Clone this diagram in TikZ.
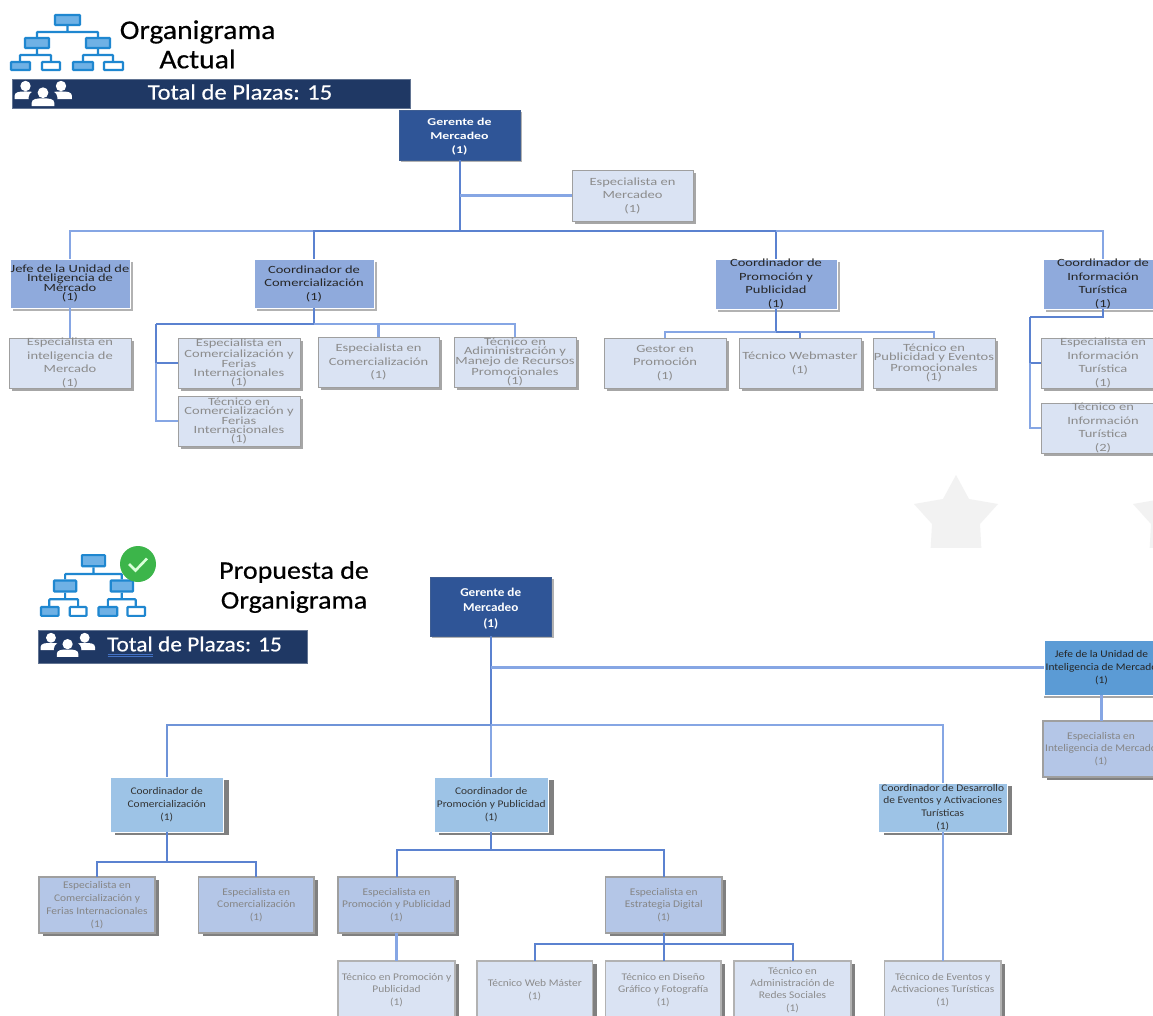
\documentclass[tikz,border=0pt]{standalone}
\usepackage{fontspec}
\usetikzlibrary{shadows}
\setmainfont{Carlito}
\newfontfamily\widef[FakeStretch=1.32]{Carlito}
\newfontfamily\lowf[FakeStretch=1.12]{Carlito}
\newfontfamily\gerf[FakeStretch=1.1]{Carlito}
\newfontfamily\titlef[FakeStretch=1.1,FakeBold=.5]{Carlito}
\newfontfamily\barAf[FakeStretch=1.12,FakeBold=.4]{Carlito}
\newfontfamily\barBf[FakeStretch=1.09,FakeBold=.4]{Carlito}
\newcommand\topf[1]{\widef\fontsize{11}{#1}\selectfont}
\newcommand\topb[1]{\widef\bfseries\fontsize{10.5}{#1}\selectfont}
\newcommand\lowt[1]{\lowf\fontsize{10.2}{#1}\selectfont}
\newcommand\lowb[1]{\gerf\bfseries\fontsize{12}{#1}\selectfont}
\definecolor{navy}{HTML}{1F3864}
\definecolor{icoB}{HTML}{1F87D0}
\definecolor{icoF}{HTML}{6FB1E5}
\definecolor{lineD}{HTML}{5B82D0}
\definecolor{lineL}{HTML}{86A6E4}
\definecolor{lineM}{HTML}{6F94D8}
\definecolor{gerC}{HTML}{2F5597}
\definecolor{paleC}{HTML}{DAE3F3}
\definecolor{coordC}{HTML}{8FAADC}
\definecolor{skyC}{HTML}{9DC3E6}
\definecolor{jefeC}{HTML}{5B9BD5}
\definecolor{midC}{HTML}{B4C6E7}
\definecolor{checkC}{HTML}{3CB54A}
\definecolor{ulC}{HTML}{4472C4}
\tikzset{
 base/.style={rectangle,inner sep=0pt,outer sep=0pt,align=center},
 gerbox/.style={base,fill=gerC,draw=gerC!80!gray,line width=.8pt,text=white,copy shadow={shadow xshift=2pt,shadow yshift=-2pt,fill=gray!60,draw=none}},
 coordbox/.style={base,fill=coordC,draw=white,line width=.8pt,text=black!85,copy shadow={shadow xshift=3pt,shadow yshift=-2.5pt,fill=gray!60,draw=none}},
 specbox/.style={base,fill=paleC,draw=gray!75,line width=1pt,text=gray!90,copy shadow={shadow xshift=3pt,shadow yshift=-2.5pt,fill=gray!70,draw=none}},
 lowcoord/.style={base,fill=skyC,draw=white,line width=.8pt,text=black!80,copy shadow={shadow xshift=5pt,shadow yshift=-2.5pt,fill=gray,draw=none}},
 lowjefe/.style={base,fill=jefeC,draw=white,line width=.8pt,text=black!85,copy shadow={shadow xshift=0pt,shadow yshift=-2.5pt,fill=gray!70,draw=none}},
 lowspec/.style={base,fill=midC,draw=gray!75,line width=1.2pt,text=gray!95,copy shadow={shadow xshift=4pt,shadow yshift=-2.5pt,fill=gray,draw=none}},
 lowtec/.style={base,fill=paleC,draw=gray!60,line width=1.2pt,text=gray!90,copy shadow={shadow xshift=4pt,shadow yshift=-2.5pt,fill=gray,draw=none}},
 connD/.style={draw=lineD,line width=2pt},
 connL/.style={draw=lineL,line width=2.1pt},
 icobox/.style={draw=icoB,line width=2.2pt,rounded corners=.8pt,fill=icoF},
 icowht/.style={draw=icoB,line width=2.2pt,rounded corners=.8pt,fill=white},
 icoline/.style={draw=icoB,line width=2.2pt,rounded corners=.8pt},
 title/.style={inner sep=0pt,text=black,font=\titlef\fontsize{27}{30}\selectfont},
 titleB/.style={inner sep=0pt,text=black,font=\titlef\fontsize{25.4}{30}\selectfont},
 bartextA/.style={inner sep=0pt,text=white,font=\barAf\fontsize{22}{24}\selectfont},
 bartextB/.style={inner sep=0pt,text=white,font=\barBf\fontsize{21.4}{24}\selectfont},
 barbox/.style={fill=navy,draw=navy!70!white,line width=.5pt},
}
% name, style, x0, y0, x1, y1, font, text
\newcommand\orgbox[8]{%
 \pgfmathsetmacro\cxx{(#3+#5)/2}\pgfmathsetmacro\cyy{(#4+#6)/2}%
 \pgfmathsetmacro\wdd{#5-#3}\pgfmathsetmacro\htt{#6-#4}%
 \node[#2,font=#7,minimum width=\wdd pt,minimum height=\htt pt] (#1) at (\cxx,\cyy) {#8};}
\newcommand\orgicon{%
 \draw[icoline] (67.5,26) -- (67.5,32) (37,37) -- (37,32) -- (98,32) -- (98,37);
 \draw[icoline] (37,49) -- (37,55) (20,61) -- (20,55) -- (51,55) -- (51,61);
 \draw[icoline] (98,49) -- (98,55) (83,61) -- (83,55) -- (113,55) -- (113,61);
 \draw[icobox] (55,15) rectangle (80,25);
 \draw[icobox] (25,38) rectangle (49,48);
 \draw[icobox] (86,38) rectangle (110,48);
 \draw[icobox] (11,62) rectangle (30,70);
 \draw[icowht] (42,62) rectangle (60,70);
 \draw[icobox] (73,62) rectangle (93,70);
 \draw[icowht] (104,62) rectangle (123,70);
}
\newcommand\personfig[3]{%
 \fill[white] (#1,#2) circle (#3);
 \fill[white] ({#1-2.1*#3},{#2+2.5*#3}) -- ({#1-2.1*#3},{#2+1.9*#3})
   .. controls ({#1-2.1*#3},{#2+1.1*#3}) and ({#1-1.1*#3},{#2+1.05*#3}) .. (#1,{#2+1.05*#3})
   .. controls ({#1+1.1*#3},{#2+1.05*#3}) and ({#1+2.1*#3},{#2+1.1*#3}) .. ({#1+2.1*#3},{#2+1.9*#3})
   -- ({#1+2.1*#3},{#2+2.5*#3}) -- cycle;}
\newcommand\peopleicon{%
 \personfig{25.5}{86}{5.2}\personfig{61}{86}{5.2}
 \fill[navy] (43,98) ellipse (14.5 and 9.5);
 \personfig{43}{92.7}{5.4}
}
\begin{document}
\begin{tikzpicture}[x=1pt,y=-1pt]
\clip (0,0) rectangle (1153,1015);
\fill[white] (0,0) rectangle (1153,1015);
% stars
\begin{scope}
 \clip (900,470) rectangle (1153,547);
 \foreach \sx in {956,1175}{
  \fill[black!5] (\sx,475)
   -- ({\sx+13},499) -- ({\sx+42},504) -- ({\sx+24},524) -- ({\sx+26},560)
   -- ({\sx-26},560) -- ({\sx-24},524) -- ({\sx-42},504) -- ({\sx-13},499) -- cycle;
 }
\end{scope}
% === top section
\orgicon
\node[title] (t1a) at (197.6,32) {Organigrama};
\node[title] (t1b) at (197.6,59) {Actual};
\path[barbox] (12,79.5) rectangle (410,108.5);
\peopleicon
\node[bartextA] (t1c) at (240,92) {Total de Plazas: 15};

\orgbox{gtop}{gerbox}{399}{110}{520}{160}{\topb{13.8}}{\rule{0pt}{11pt}Gerente de\\Mercadeo\\(1)}
\orgbox{emk}{specbox}{572}{170}{693}{221}{\topf{13.5}}{Especialista en\\Mercadeo\\(1)}
\orgbox{jtop}{coordbox}{10}{259}{130}{308}{\topf{9}}{Jefe de la Unidad de\\Inteligencia de\\Mércado\\(1)}
\orgbox{ctc}{coordbox}{254}{259}{374}{308}{\topf{13.5}}{Coordinador de\\Comercialización\\(1)}
\orgbox{ctp}{coordbox}{715}{259}{837}{309}{\topf{13.5}}{Coordinador de\\Promoción y\\Publicidad\\(1)}
\orgbox{cti}{coordbox}{1043}{259}{1163}{309}{\topf{13.5}}{Coordinador de\\Información\\Turística\\(1)}
\orgbox{eint}{specbox}{9}{338}{131}{388}{\topf{13.5}}{Especialista en\\inteligencia de\\Mercado\\(1)}
\orgbox{ecf}{specbox}{178}{338}{300}{388}{\topf{9}}{Especialista en\\Comercialización y\\Ferias\\Internacionales\\(1)}
\orgbox{tcf}{specbox}{178}{396}{300}{446}{\topf{9}}{Técnico en\\Comercialización y\\Ferias\\Internacionales\\(1)}
\orgbox{ecm}{specbox}{318}{337}{439}{387}{\topf{13.5}}{Especialista en\\Comercialización\\(1)}
\orgbox{tad}{specbox}{454}{337}{576}{387}{\topf{9}}{Técnico en\\Adiministración y\\Manejo de Recursos\\Promocionales\\(1)}
\orgbox{gpr}{specbox}{604}{338}{726}{388}{\topf{13.5}}{Gestor en\\Promoción\\(1)}
\orgbox{twb}{specbox}{739}{338}{861}{388}{\topf{14}}{Técnico Webmaster\\(1)}
\orgbox{tpe}{specbox}{873}{338}{995}{388}{\topf{9}}{Técnico en\\Publicidad y Eventos\\Promocionales\\(1)}
\orgbox{ein}{specbox}{1041}{338}{1165}{388}{\topf{13.5}}{Especialista en\\Información\\Turística\\(1)}
\orgbox{tin}{specbox}{1041}{403}{1165}{453}{\topf{13.5}}{Técnico en\\Información\\Turística\\(2)}

\coordinate (busT) at (459.5,231);
\coordinate (busC) at (0,324);
\coordinate (busP) at (0,332);
\coordinate (busI) at (1030,317);
\coordinate (lftC) at (156,324);
\coordinate (lftI) at (1030,317);
\draw[connD] (gtop.south) -- (gtop.south |- busT);
\draw[connL] (gtop.south |- emk.west) -- (emk.west);
\draw[connL] (busT) -| (jtop.north);
\draw[connD] (busT) -| (ctc.north);
\draw[connD] (busT) -| (ctp.north);
\draw[connL] (ctp.north |- busT) -| (cti.north);
\draw[connL] (jtop.south) -- (eint.north);
% Coordinador de Comercializacion
\draw[connD] (ctc.south) -- (ctc.south |- busC);
\draw[connD] (ctc.south |- busC) -- (lftC);
\draw[connL] (ctc.south |- busC) -| (ecm.north);
\draw[connL] (ecm.north |- busC) -| (tad.north);
\draw[connD] (lftC) |- (ecf.west);
\draw[connL] (lftC |- ecf.west) |- (tcf.west);
% Promocion
\draw[connD] (ctp.south) -- (ctp.south |- busP);
\draw[connL] (ctp.south |- busP) -| (gpr.north);
\draw[connD] (ctp.south |- busP) -| (twb.north);
\draw[connL] (twb.north |- busP) -| (tpe.north);
% Informacion
\draw[connD] (cti.south) |- (busI);
\draw[connD] (busI) |- (ein.west);
\draw[connL] (lftI |- ein.west) |- (tin.west);

% === lower section
\begin{scope}[shift={(40,554)},xscale=.93,yscale=1.105,shift={(-10,-14)}]
 \orgicon
\end{scope}
\fill[checkC] (138,564) circle (18);
\draw[white!85!green,line width=2.6pt] (129,564) -- (135.5,570.5) -- (147,558.5);
\node[titleB] (t2a) at (294,572) {Propuesta de};
\node[titleB] (t2b) at (294,602) {Organigrama};
\path[barbox] (38,630) rectangle (307,663);
\begin{scope}[shift={(41,633)},scale=.95,shift={(-15,-81)}]
 \peopleicon
\end{scope}
\node[bartextB,anchor=west] (t2c) at (107,644) {Total de Plazas: 15};
\draw[ulC,line width=.6pt] (107.5,654) -- (153,654) (107.5,656.5) -- (153,656.5);

\orgbox{glo}{gerbox}{430}{577}{551.5}{636}{\lowb{15.5}}{\rule{0pt}{12pt}Gerente de\\Mercadeo\\(1)}
\orgbox{jlo}{lowjefe}{1044}{640}{1159}{695}{\lowt{12.8}}{Jefe de la Unidad de\\Inteligencia de Mercado\\(1)}
\orgbox{elo}{lowspec}{1043}{721}{1159}{777}{\lowt{12.8}}{Especialista en\\Inteligencia de Mercado\\(1)}
\orgbox{clc}{lowcoord}{110}{777}{223.5}{832}{\lowt{13}}{Coordinador de\\Comercialización\\(1)}
\orgbox{clp}{lowcoord}{434}{777}{548.5}{832}{\lowt{13}}{Coordinador de\\Promoción y Publicidad\\(1)}
\orgbox{cld}{lowcoord}{878.5}{783}{1007}{832}{\lowt{12.8}}{Coordinador de Desarrollo\\de Eventos y Activaciones\\Turísticas\\(1)}
\orgbox{ecf2}{lowspec}{39}{877}{155}{933}{\lowt{12.8}}{Especialista en\\Comercialización y\\Ferias Internacionales\\(1)}
\orgbox{ecm2}{lowspec}{198.5}{877}{314}{933}{\lowt{12.8}}{Especialista en\\Comercialización\\(1)}
\orgbox{epp}{lowspec}{338}{877}{455}{933}{\lowt{12.8}}{Especialista en\\Promoción y Publicidad\\(1)}
\orgbox{eed}{lowspec}{605.5}{877}{722}{933}{\lowt{12.8}}{Especialista en\\Estrategia Digital\\(1)}
\orgbox{tpp}{lowtec}{338}{961}{455}{1019}{\lowt{12.5}}{Técnico en Promoción y\\Publicidad\\(1)}
\orgbox{twm}{lowtec}{477}{961}{592.5}{1019}{\lowt{12.5}}{Técnico Web Máster\\(1)}
\orgbox{tdg}{lowtec}{605.5}{961}{721}{1019}{\lowt{12.5}}{Técnico en Diseño\\Gráfico y Fotografía\\(1)}
\orgbox{tar}{lowtec}{734}{961}{851}{1019}{\lowt{12.3}}{Técnico en\\Administración de\\Redes Sociales\\(1)}
\orgbox{tea}{lowtec}{884.5}{961}{1001}{1019}{\lowt{12.5}}{Técnico de Eventos y\\Activaciones Turísticas\\(1)}

\coordinate (busL) at (0,725);
\coordinate (busLC) at (0,862);
\coordinate (busLP) at (0,850);
\coordinate (busLE) at (0,944);
\draw[connD] (glo.south) -- (glo.south |- busL);
\draw[connL] (glo.south |- busL) -- (glo.south |- clp.north);
\draw[connL] (glo.south |- jlo.west) -- (jlo.west);
\draw[connL,draw=lineM] (glo.south |- busL) -| (clc.north);
\draw[connL] (glo.south |- busL) -| (cld.north);
\draw[connL] (jlo.south) -- (jlo.south |- elo.north);
\draw[connD] (clc.south) -- (clc.south |- busLC);
\draw[connD] (clc.south |- busLC) -| (ecf2.north);
\draw[connD] (clc.south |- busLC) -| (ecm2.north);
\draw[connD] (clp.south) -- (clp.south |- busLP);
\draw[connD] (clp.south |- busLP) -| (epp.north);
\draw[connD] (clp.south |- busLP) -| (eed.north);
\draw[connL] (epp.south) -- (tpp.north);
\draw[connD] (eed.south) -- (eed.south |- tdg.north);
\draw[connD] (eed.south |- busLE) -| (twm.north);
\draw[connD] (eed.south |- busLE) -| (tar.north);
\draw[connL] (cld.south) -- (cld.south |- tea.north);
\end{tikzpicture}
\end{document}
